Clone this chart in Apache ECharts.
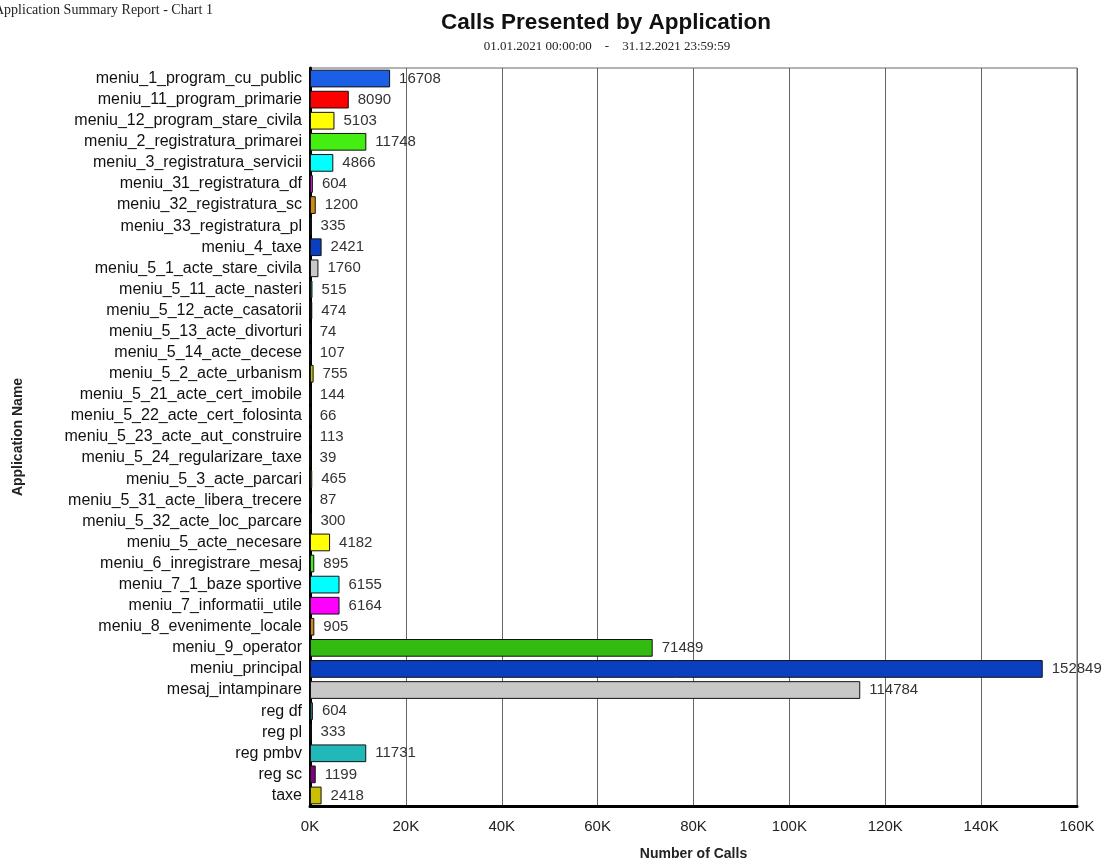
<!DOCTYPE html>
<html>
<head>
<meta charset="utf-8">
<script src="https://cdn.jsdelivr.net/npm/echarts@6/dist/echarts.min.js"></script>
<style>
  html, body { margin: 0; padding: 0; background: #fff; }
  #main { width: 1108px; height: 861px; }
</style>
</head>
<body>
<div id="main"></div>
<script>
var categories = [
    'meniu_1_program_cu_public', 'meniu_11_program_primarie', 'meniu_12_program_stare_civila',
    'meniu_2_registratura_primarei', 'meniu_3_registratura_servicii', 'meniu_31_registratura_df',
    'meniu_32_registratura_sc', 'meniu_33_registratura_pl', 'meniu_4_taxe',
    'meniu_5_1_acte_stare_civila', 'meniu_5_11_acte_nasteri', 'meniu_5_12_acte_casatorii',
    'meniu_5_13_acte_divorturi', 'meniu_5_14_acte_decese', 'meniu_5_2_acte_urbanism',
    'meniu_5_21_acte_cert_imobile', 'meniu_5_22_acte_cert_folosinta', 'meniu_5_23_acte_aut_construire',
    'meniu_5_24_regularizare_taxe', 'meniu_5_3_acte_parcari', 'meniu_5_31_acte_libera_trecere',
    'meniu_5_32_acte_loc_parcare', 'meniu_5_acte_necesare', 'meniu_6_inregistrare_mesaj',
    'meniu_7_1_baze sportive', 'meniu_7_informatii_utile', 'meniu_8_evenimente_locale',
    'meniu_9_operator', 'meniu_principal', 'mesaj_intampinare',
    'reg df', 'reg pl', 'reg pmbv', 'reg sc', 'taxe'
];
var calls = [
    16708, 8090, 5103, 11748, 4866, 604, 1200, 335, 2421, 1760, 515, 474,
    74, 107, 755, 144, 66, 113, 39, 465, 87, 300, 4182, 895, 6155, 6164,
    905, 71489, 152849, 114784, 604, 333, 11731, 1199, 2418
];
var xTicks = ['0K', '20K', '40K', '60K', '80K', '100K', '120K', '140K', '160K'];

// report palette, cycles every 20 bars
var palette = [
    '#1a5fe6', '#ff0000', '#ffff00', '#44ee11', '#00ffff', '#ff00ff', '#d08a10',
    '#33bb11', '#0a3fc0', '#c8c8c8', '#1a8080', '#111111', '#20b8b8', '#800080',
    '#c8c000', '#e08040', '#6060c0', '#80c080', '#a04040', '#e0e000'
];

var chart = echarts.init(document.getElementById('main'));

var option = {
    backgroundColor: '#ffffff',
    animation: false,
    title: [{
        text: 'Calls Presented by Application',
        left: 601,
        top: 6,
        textAlign: 'center',
        textStyle: { fontFamily: 'Liberation Sans, Arial', fontSize: 22.5, fontWeight: 'bold', color: '#111' }
    }, {
        text: '01.01.2021 00:00:00    -    31.12.2021 23:59:59',
        left: 602,
        top: 35,
        textAlign: 'center',
        textStyle: { fontFamily: 'Liberation Serif, Times New Roman', fontSize: 13, fontWeight: 'normal', color: '#222' }
    }, {
        text: 'Application Summary Report - Chart 1',
        left: -11,
        top: -2,
        textStyle: { fontFamily: 'Liberation Serif, Times New Roman', fontSize: 14, fontWeight: 'normal', color: '#222' }
    }],
    grid: {
        left: 310,
        right: 31,
        top: 68,
        bottom: 55,
        outerBoundsMode: 'none',
        containLabel: false,
        show: true,
        borderColor: '#666',
        borderWidth: 1
    },
    xAxis: {
        type: 'value',
        min: 0,
        max: 160000,
        interval: 20000,
        name: 'Number of Calls',
        nameLocation: 'middle',
        nameGap: 41,
        nameTextStyle: { fontFamily: 'Liberation Sans, Arial', fontSize: 14, fontWeight: 'bold', color: '#222' },
        axisLine: { show: true, lineStyle: { color: '#000', width: 3 } },
        axisTick: { show: false },
        axisLabel: {
            margin: 13,
            fontFamily: 'Liberation Sans, Arial',
            fontSize: 15,
            color: '#222',
            formatter: function (v) { return xTicks[Math.round(v / 20000)]; }
        },
        splitLine: { show: true, lineStyle: { color: '#666', width: 1 } }
    },
    yAxis: {
        type: 'category',
        data: categories,
        inverse: true,
        name: 'Application Name',
        nameLocation: 'middle',
        nameGap: 285,
        nameRotate: 90,
        nameTextStyle: { fontFamily: 'Liberation Sans, Arial', fontSize: 14, fontWeight: 'bold', color: '#222' },
        axisLine: { show: true, lineStyle: { color: '#000', width: 3 } },
        axisTick: { show: false },
        axisLabel: {
            margin: 8,
            interval: 0,
            fontFamily: 'Liberation Sans, Arial',
            fontSize: 16,
            color: '#111'
        }
    },
    series: [{
        type: 'bar',
        data: calls.map(function (v, i) {
            return { value: v, itemStyle: { color: palette[i % palette.length] } };
        }),
        barCategoryGap: '16%',
        itemStyle: { borderColor: '#111', borderWidth: 1 },
        label: {
            show: true,
            position: 'right',
            distance: 9,
            fontFamily: 'Liberation Sans, Arial',
            fontSize: 15,
            color: '#333'
        }
    }]
};

chart.setOption(option);
</script>
</body>
</html>
